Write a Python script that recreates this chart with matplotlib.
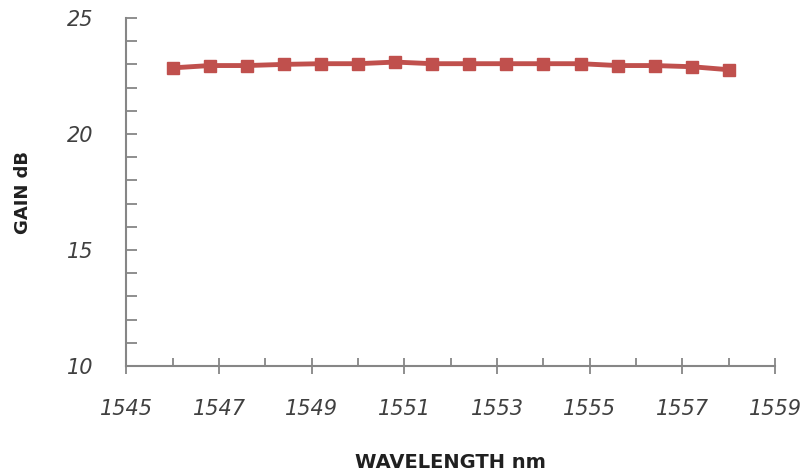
import matplotlib
matplotlib.use('Agg')
import matplotlib.pyplot as plt
from matplotlib.ticker import MultipleLocator

# wavelength (nm) and measured gain (dB)
wavelength = [1546.0, 1546.8, 1547.6, 1548.4, 1549.2, 1550.0, 1550.8, 1551.6,
              1552.4, 1553.2, 1554.0, 1554.8, 1555.6, 1556.4, 1557.2, 1558.0]
gain = [22.85, 22.95, 22.95, 23.0, 23.03, 23.03, 23.1, 23.03,
        23.03, 23.03, 23.03, 23.03, 22.95, 22.95, 22.9, 22.77]

x_ticks = [1545, 1547, 1549, 1551, 1553, 1555, 1557, 1559]
y_ticks = [10, 15, 20, 25]

axis_col = '#868686'
label_col = '#404040'

fig = plt.figure(figsize=(8.1, 4.73), dpi=100)
ax = fig.add_axes([0.156, 0.226, 0.801, 0.736])

ax.plot(wavelength, gain, color='#C0504D', lw=3.5, marker='s', ms=9,
        markeredgecolor='#C0504D', clip_on=False, zorder=3)

ax.set_xlim(1545, 1559)
ax.set_ylim(10, 25)
ax.set_xticks(x_ticks)
ax.set_yticks(y_ticks)
ax.xaxis.set_minor_locator(MultipleLocator(1))
ax.yaxis.set_minor_locator(MultipleLocator(1))

for s in ['top', 'right']:
    ax.spines[s].set_visible(False)
for s in ['left', 'bottom']:
    ax.spines[s].set_color(axis_col)
    ax.spines[s].set_linewidth(1.5)

ax.tick_params(axis='x', which='major', direction='inout', length=12, width=1.3,
               color=axis_col, pad=18)
ax.tick_params(axis='x', which='minor', direction='in', length=6, width=1.3,
               color=axis_col)
ax.tick_params(axis='y', which='both', direction='in', length=8, width=1.3,
               color=axis_col, pad=24)

for lab in ax.get_xticklabels() + ax.get_yticklabels():
    lab.set_fontsize(15)
    lab.set_fontstyle('italic')
    lab.set_color(label_col)

ax.set_ylabel('GAIN dB', fontsize=13, color='#202020', fontweight='semibold')
ax.yaxis.set_label_coords(-0.145, 0.5)
ax.set_xlabel('WAVELENGTH nm', fontsize=14, color='#202020', fontweight='semibold')
ax.xaxis.set_label_coords(0.499, -0.25)

fig.savefig('out.png', dpi=100)
